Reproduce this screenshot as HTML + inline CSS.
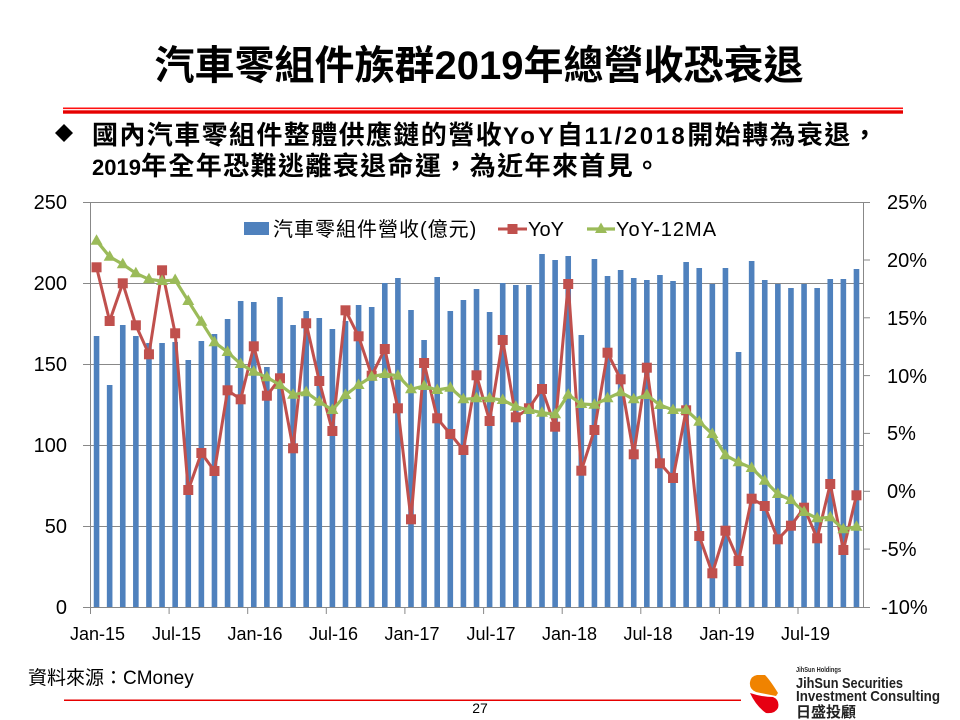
<!DOCTYPE html>
<html>
<head>
<meta charset="utf-8">
<style>
  html,body{margin:0;padding:0;background:#fff;}
  body{width:960px;height:720px;overflow:hidden;}
  svg{display:block;}
  .f{font-family:"Liberation Sans","Noto Sans CJK TC",sans-serif;}
</style>
</head>
<body>
<svg width="960" height="720" viewBox="0 0 960 720" xmlns="http://www.w3.org/2000/svg" class="f">
  <defs>
    <marker id="sq" viewBox="0 0 10 10" markerWidth="10" markerHeight="10" refX="5" refY="5" markerUnits="userSpaceOnUse" overflow="visible">
      <rect x="0" y="0" width="10" height="10" fill="#C0504D"/>
    </marker>
    <marker id="tri" viewBox="0 0 12 11" markerWidth="12" markerHeight="11" refX="6" refY="6.5" markerUnits="userSpaceOnUse" overflow="visible">
      <polygon points="6,0 12,10.5 0,10.5" fill="#9BBB59"/>
    </marker>
  </defs>

  <!-- Title -->
  <text x="479" y="79" text-anchor="middle" font-size="40" font-weight="bold" fill="#000">汽車零組件族群2019年總營收恐衰退</text>

  <!-- header red lines -->
  <rect x="63" y="107.5" width="840" height="1.6" fill="#ff1010"/>
  <rect x="63" y="110.3" width="840" height="3.4" fill="#e60000"/>

  <!-- bullet -->
  <polygon points="64,124 73,133 64,142 55,133" fill="#000"/>
  <text x="92" y="144" font-size="26" font-weight="bold" letter-spacing="1.4" fill="#000">國內汽車零組件整體供應鏈的營收<tspan font-size="24" letter-spacing="3">YoY</tspan>自<tspan font-size="24" letter-spacing="2.5">11/2018</tspan>開始轉為衰退，</text>
  <text x="92" y="175" font-size="26" font-weight="bold" letter-spacing="1.4" fill="#000"><tspan font-size="22" letter-spacing="0">2019</tspan>年全年恐難逃離衰退命運，為近年來首見。</text>

  <!-- gridlines -->
  <g stroke="#888888" stroke-width="1">
    <line x1="90" y1="202.5" x2="863" y2="202.5"/>
    <line x1="90" y1="283.5" x2="863" y2="283.5"/>
    <line x1="90" y1="364.5" x2="863" y2="364.5"/>
    <line x1="90" y1="445.5" x2="863" y2="445.5"/>
    <line x1="90" y1="526.5" x2="863" y2="526.5"/>
    <!-- axes -->
    <line x1="90.5" y1="202" x2="90.5" y2="607"/>
    <line x1="863.5" y1="202" x2="863.5" y2="607"/>
    <line x1="83" y1="607.5" x2="870" y2="607.5"/>
    <!-- left ticks -->
    <line x1="83" y1="202.5" x2="90" y2="202.5"/>
    <line x1="83" y1="283.5" x2="90" y2="283.5"/>
    <line x1="83" y1="364.5" x2="90" y2="364.5"/>
    <line x1="83" y1="445.5" x2="90" y2="445.5"/>
    <line x1="83" y1="526.5" x2="90" y2="526.5"/>
    <!-- right ticks -->
    <line x1="863" y1="202.5" x2="870" y2="202.5"/>
    <line x1="863" y1="260" x2="870" y2="260"/>
    <line x1="863" y1="317.8" x2="870" y2="317.8"/>
    <line x1="863" y1="375.6" x2="870" y2="375.6"/>
    <line x1="863" y1="433.4" x2="870" y2="433.4"/>
    <line x1="863" y1="491.3" x2="870" y2="491.3"/>
    <line x1="863" y1="549.1" x2="870" y2="549.1"/>
    <!-- x ticks -->
    <line x1="90.5" y1="607" x2="90.5" y2="614"/>
    <line x1="169.1" y1="607" x2="169.1" y2="614"/>
    <line x1="247.7" y1="607" x2="247.7" y2="614"/>
    <line x1="326.3" y1="607" x2="326.3" y2="614"/>
    <line x1="404.9" y1="607" x2="404.9" y2="614"/>
    <line x1="483.6" y1="607" x2="483.6" y2="614"/>
    <line x1="562.2" y1="607" x2="562.2" y2="614"/>
    <line x1="640.8" y1="607" x2="640.8" y2="614"/>
    <line x1="719.4" y1="607" x2="719.4" y2="614"/>
    <line x1="798" y1="607" x2="798" y2="614"/>
  </g>

  <!-- bars -->
  <path fill="#4F81BD" d="M93.75 336h5.6V607h-5.6z M106.85 385h5.6V607h-5.6z M119.96 325h5.6V607h-5.6z M133.06 336h5.6V607h-5.6z M146.16 343h5.6V607h-5.6z M159.26 343h5.6V607h-5.6z M172.36 342h5.6V607h-5.6z M185.47 360h5.6V607h-5.6z M198.57 341h5.6V607h-5.6z M211.67 334h5.6V607h-5.6z M224.77 319h5.6V607h-5.6z M237.87 301h5.6V607h-5.6z M250.98 302h5.6V607h-5.6z M264.08 367h5.6V607h-5.6z M277.18 297h5.6V607h-5.6z M290.28 325h5.6V607h-5.6z M303.38 311h5.6V607h-5.6z M316.48 318h5.6V607h-5.6z M329.59 329h5.6V607h-5.6z M342.69 321h5.6V607h-5.6z M355.79 305h5.6V607h-5.6z M368.89 307h5.6V607h-5.6z M381.99 283h5.6V607h-5.6z M395.1 278h5.6V607h-5.6z M408.2 310h5.6V607h-5.6z M421.3 340h5.6V607h-5.6z M434.4 277h5.6V607h-5.6z M447.5 311h5.6V607h-5.6z M460.61 300h5.6V607h-5.6z M473.71 289h5.6V607h-5.6z M486.81 312h5.6V607h-5.6z M499.91 283h5.6V607h-5.6z M513.01 285h5.6V607h-5.6z M526.12 285h5.6V607h-5.6z M539.22 254h5.6V607h-5.6z M552.32 260h5.6V607h-5.6z M565.42 256h5.6V607h-5.6z M578.52 335h5.6V607h-5.6z M591.63 259h5.6V607h-5.6z M604.73 276h5.6V607h-5.6z M617.83 270h5.6V607h-5.6z M630.93 278h5.6V607h-5.6z M644.03 280h5.6V607h-5.6z M657.14 275h5.6V607h-5.6z M670.24 281h5.6V607h-5.6z M683.34 262h5.6V607h-5.6z M696.44 268h5.6V607h-5.6z M709.54 284h5.6V607h-5.6z M722.65 268h5.6V607h-5.6z M735.75 352h5.6V607h-5.6z M748.85 261h5.6V607h-5.6z M761.95 280h5.6V607h-5.6z M775.05 284h5.6V607h-5.6z M788.16 288h5.6V607h-5.6z M801.26 284h5.6V607h-5.6z M814.36 288h5.6V607h-5.6z M827.46 279h5.6V607h-5.6z M840.56 279h5.6V607h-5.6z M853.67 269h5.6V607h-5.6z"/>

  <!-- YoY line -->
  <polyline fill="none" stroke="#C0504D" stroke-width="3" stroke-linejoin="round" marker-start="url(#sq)" marker-mid="url(#sq)" marker-end="url(#sq)"
    points="96.55,267.3 109.65,321 122.76,283.3 135.86,325.3 148.96,354.3 162.06,270.3 175.16,333.3 188.27,490 201.37,453 214.47,471 227.57,390.3 240.67,399.3 253.78,346.3 266.88,395.7 279.98,378.3 293.08,448.3 306.18,323.3 319.28,381 332.39,431 345.49,310.3 358.59,336.3 371.69,375.7 384.79,349 397.9,408.3 411,519.3 424.1,363 437.2,418.3 450.3,434 463.41,450 476.51,375.3 489.61,421 502.71,340 515.81,417.3 528.92,408.3 542.02,389 555.12,426.7 568.22,284 581.32,470.7 594.43,430 607.53,352.7 620.63,379.3 633.73,454.3 646.83,367.7 659.94,463.3 673.04,478 686.14,410.3 699.24,536 712.34,573.3 725.45,530.7 738.55,561 751.65,498.7 764.75,506 777.85,539.3 790.96,525.7 804.06,507.7 817.16,538.3 830.26,484 843.36,550 856.47,495.3"/>

  <!-- YoY-12MA line -->
  <polyline fill="none" stroke="#9BBB59" stroke-width="3.2" stroke-linejoin="round" marker-start="url(#tri)" marker-mid="url(#tri)" marker-end="url(#tri)"
    points="96.55,240.7 109.65,256.7 122.76,264.3 135.86,273.3 148.96,279.3 162.06,281 175.16,280 188.27,301 201.37,321.7 214.47,342.3 227.57,352 240.67,364 253.78,371.7 266.88,377.3 279.98,385 293.08,394.7 306.18,392.3 319.28,401.7 332.39,410 345.49,395 358.59,385 371.69,376.7 384.79,374 397.9,375.7 411,389.3 424.1,386 437.2,390 450.3,387.7 463.41,399.3 476.51,398.3 489.61,398.3 502.71,400 515.81,406.7 528.92,410 542.02,412.7 555.12,414.3 568.22,394.7 581.32,404 594.43,404.7 607.53,398.3 620.63,392.3 633.73,399.3 646.83,395 659.94,405 673.04,410 686.14,410 699.24,421.7 712.34,434 725.45,455.3 738.55,462.3 751.65,468 764.75,480.7 777.85,494 790.96,500 804.06,512 817.16,518.3 830.26,517.3 843.36,529.3 856.47,526.7"/>

  <!-- legend -->
  <rect x="244" y="222" width="25" height="13" fill="#4F81BD"/>
  <text x="273" y="236" font-size="20" letter-spacing="1" fill="#000">汽車零組件營收(億元)</text>
  <line x1="498" y1="229" x2="527" y2="229" stroke="#C0504D" stroke-width="3"/>
  <rect x="507.5" y="224" width="10" height="10" fill="#C0504D"/>
  <text x="528" y="236" font-size="20" fill="#000">YoY</text>
  <line x1="587" y1="229" x2="615" y2="229" stroke="#9BBB59" stroke-width="3.2"/>
  <polygon points="601,222.5 607,233 595,233" fill="#9BBB59"/>
  <text x="616" y="236" font-size="20" letter-spacing="1" fill="#000">YoY-12MA</text>

  <!-- left axis labels -->
  <g font-size="20" text-anchor="end" fill="#000">
    <text x="67" y="209">250</text>
    <text x="67" y="290">200</text>
    <text x="67" y="371">150</text>
    <text x="67" y="452">100</text>
    <text x="67" y="533">50</text>
    <text x="67" y="614">0</text>
  </g>
  <!-- right axis labels -->
  <g font-size="20" fill="#000">
    <text x="887" y="209">25%</text>
    <text x="887" y="267">20%</text>
    <text x="887" y="325">15%</text>
    <text x="887" y="383">10%</text>
    <text x="887" y="440">5%</text>
    <text x="887" y="498">0%</text>
    <text x="881" y="556">-5%</text>
    <text x="881" y="614">-10%</text>
  </g>
  <!-- x axis labels -->
  <g font-size="18" text-anchor="middle" fill="#000">
    <text x="97.5" y="640">Jan-15</text>
    <text x="176.5" y="640">Jul-15</text>
    <text x="255" y="640">Jan-16</text>
    <text x="333.5" y="640">Jul-16</text>
    <text x="412" y="640">Jan-17</text>
    <text x="491" y="640">Jul-17</text>
    <text x="569.5" y="640">Jan-18</text>
    <text x="648" y="640">Jul-18</text>
    <text x="727" y="640">Jan-19</text>
    <text x="805.5" y="640">Jul-19</text>
  </g>

  <!-- source -->
  <text x="28" y="684" font-size="19" fill="#000">資料來源：CMoney</text>

  <!-- bottom line + page number -->
  <rect x="64" y="699.5" width="677" height="1.5" fill="#e60000"/>
  <text x="480" y="713" font-size="14" text-anchor="middle" fill="#000">27</text>

  <!-- logo -->
  <path d="M757,675 L765,675 Q770,680 778,693 L776,696 Q765,694 756,692 Q749,689 750,682 Q751,676 757,675 Z" fill="#F08300"/>
  <path d="M750,693 Q762,697 773,697 Q780,700 778,708 Q775,714 766,713 Q756,706 750,693 Z" fill="#E60012"/>
  <text x="796" y="672" font-size="7" font-weight="bold" fill="#222" textLength="45" lengthAdjust="spacingAndGlyphs">JihSun Holdings</text>
  <text x="796" y="688" font-size="15" fill="#222" font-weight="bold" textLength="107" lengthAdjust="spacingAndGlyphs">JihSun Securities</text>
  <text x="796" y="701" font-size="15" fill="#222" font-weight="bold" textLength="144" lengthAdjust="spacingAndGlyphs">Investment Consulting</text>
  <text x="796" y="717" font-size="15" fill="#222" font-weight="bold">日盛投顧</text>
</svg>
</body>
</html>
